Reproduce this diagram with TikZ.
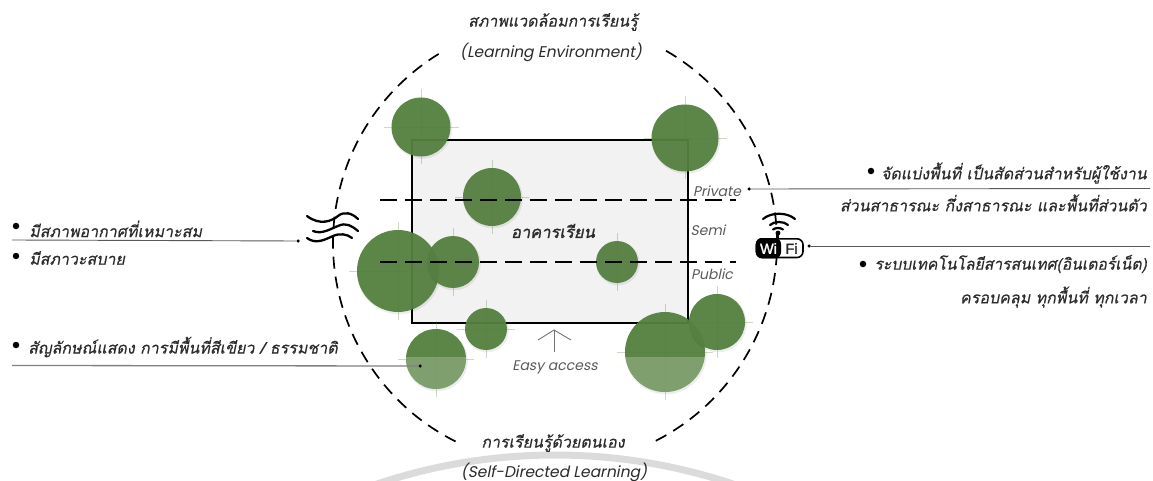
\documentclass[tikz,border=0pt]{standalone}
\usepackage{fontspec}
\newfontfamily\thaiit[Script=Thai,FakeSlant=0.2,FakeBold=0.35]{Loma}
\newfontfamily\thaibd[Script=Thai,FakeSlant=0.2,FakeBold=1.3]{Loma}
\newfontfamily\latinit[FakeSlant=0.2]{Poppins}
\newfontfamily\wifont[FakeBold=1.8]{Liberation Sans}
\definecolor{treegreen}{HTML}{558040}
\definecolor{inktext}{HTML}{2B2B2B}
\definecolor{softtext}{HTML}{5A5A5A}
\tikzset{
  thaitext/.style={inner sep=0pt,text=inktext,font=\thaiit\fontsize{16}{18}\selectfont},
  engtext/.style={inner sep=0pt,text=inktext,font=\latinit\fontsize{15.5}{18}\selectfont},
  zonetext/.style={inner sep=0pt,text=softtext,font=\latinit\fontsize{14}{16}\selectfont},
  bulletdot/.style={circle,fill=black,inner sep=0pt,minimum size=6.5pt},
  enddot/.style={circle,fill=black,inner sep=0pt,minimum size=3.5pt},
  leader/.style={draw=black!65,line width=0.9pt},
  ring/.style={draw=black,line width=1.7pt,dash pattern=on 12pt off 8pt},
  zoneline/.style={draw=black,line width=1.8pt,dash pattern=on 17pt off 8pt},
  treetop/.style={circle,inner sep=0pt,fill=treegreen,fill opacity=0.95,draw=none},
  twig/.style={draw=treegreen,draw opacity=0.3,line width=0.6pt},
  wave/.style={draw=black,line width=2.3pt,line cap=round},
  wifiarc/.style={draw=black,line width=2.2pt,line cap=round},
}
\newcommand{\treeat}[4]{% name, x, y, radius
  \fill[black,opacity=0.07] (#2+1,#3+1.5) circle (#4+0.8);
  \node[treetop,minimum size=2*#4 pt] (#1) at (#2,#3) {};
  \draw[twig] (#2-#4-8,#3) -- (#2+#4+8,#3) (#2,#3-#4-8) -- (#2,#3+#4+8);
}
\begin{document}
\begin{tikzpicture}[x=1pt,y=-1pt]
\useasboundingbox (0,0) rectangle (1153,481);
\begin{scope}
\clip (0,0) rectangle (1153,481);
\coordinate (wmcentre) at (555,1015);
\draw[draw=black!14,line width=7pt] (wmcentre) ++(-60:560) arc[start angle=-60,end angle=-120,radius=560];
\end{scope}

% ring (the y axis points down, so angles run clockwise on the page)
\coordinate (ringcentre) at (555,243);
\draw[ring] (ringcentre) ++(238.4:222) arc[start angle=238.4,end angle=116.6,radius=222];
\draw[ring,dash pattern=on 12.2pt off 8pt] (ringcentre) ++(-60:222) arc[start angle=-60,end angle=63,radius=222];

% building
\node[draw=black,line width=1.8pt,fill=black!5,inner sep=0pt,minimum width=276pt,minimum height=183pt] (building) at (550,231.5) {};

% trees
\treeat{t1}{421}{127}{29.5}
\treeat{t2}{685}{138}{33.5}
\treeat{t3}{492}{197}{29}
\treeat{t4}{398}{271}{41}
\treeat{t5}{453}{262}{26}
\treeat{t6}{617}{262}{21}
\treeat{t7}{486}{329}{21}
\treeat{t8}{436}{359}{30}
\treeat{t9}{665}{352}{40}
\treeat{t10}{717}{322}{28}
% lighter lower parts
\begin{scope}
\clip (380,357) rectangle (720,410);
\fill[white,opacity=0.22] (t8) circle (30);
\fill[white,opacity=0.22] (t9) circle (40);
\end{scope}

% zone lines
\coordinate (z1a) at (380,200); \coordinate (z1b) at (736,200);
\coordinate (z2a) at (380,262); \coordinate (z2b) at (736,262);
\draw[zoneline] (z1a) -- (z1b);
\draw[zoneline] (z2a) -- (z2b);

% building labels
\node[inner sep=0pt,text=inktext,font=\thaibd\fontsize{16.5}{18}\selectfont] (bname) at (553,231) {อาคารเรียน};
\node[zonetext] (private) at (717,191) {Private};
\node[zonetext] (semi) at (708,230) {Semi};
\node[zonetext] (public) at (712,274) {Public};

% easy access
\node[zonetext] (easy) at (555,367) {Easy access};
\coordinate (arrowtop) at (554,330);
\coordinate (arrowfoot) at (554,352);
\coordinate (arrowl) at (538,340);
\coordinate (arrowr) at (571,340);
\draw[draw=black!55,line width=0.9pt] (arrowfoot) -- (arrowtop);
\draw[draw=black!55,line width=0.9pt] (arrowl) -- (arrowtop) -- (arrowr);

% titles
\node[thaitext] (ttop) at (553,22) {สภาพแวดล้อมการเรียนรู้};
\node[engtext] (etop) at (551,52) {(Learning Environment)};
\node[thaitext] (tbot) at (553,443) {การเรียนรู้ด้วยตนเอง};
\node[engtext] (ebot) at (554,472) {(Self-Directed Learning)};

% waves
\coordinate (waveas) at (307,216); \coordinate (waveae) at (358,219);
\coordinate (wavebs) at (313,231); \coordinate (wavebe) at (358,231);
\coordinate (wavecs) at (307,238); \coordinate (wavece) at (352,238);
\draw[wave] (waveas) .. controls (320,226) and (332,221) .. (338,216) .. controls (344,211) and (352,213) .. (waveae);
\draw[wave] (wavebs) .. controls (322,235) and (332,228) .. (338,226) .. controls (346,222) and (352,226) .. (wavebe);
\draw[wave] (wavecs) .. controls (316,245) and (326,239) .. (333,236) .. controls (340,233) and (347,234) .. (wavece);

% wifi
\draw[wifiarc] (763,219) .. controls (771,212) and (787,212) .. (795,219);
\draw[wifiarc] (770,225) .. controls (774,221) and (784,221) .. (788,225);
\draw[wifiarc] (773,229.5) .. controls (776,227.5) and (780,227.5) .. (783,229.5);
\fill[black] (778,233) circle (2.4);
\draw[black,line width=1.8pt] (778,233) -- (778,240);
\draw[draw=black,fill=white,line width=1.6pt,rounded corners=6pt] (756.5,238.8) rectangle (803,257.5);
\fill[black,rounded corners=6pt] (755.7,238) rectangle (781,258.3);
\node[inner sep=0pt,text=white,font=\wifont\fontsize{14.5}{16}\selectfont] (wi) at (768.5,248.5) {Wi};
\node[inner sep=0pt,text=black!85,font=\wifont\fontsize{14.5}{16}\selectfont] (fi) at (791.5,248.5) {Fi};

% right annotations
\node[enddot] (d1) at (749,189) {};
\coordinate (d1e) at (1150,188.5);
\draw[leader] (d1) -- (d1e);
\node[bulletdot] (b1) at (871,171) {};
\node[thaitext,anchor=east] (r1) at (1147,173) {จัดแบ่งพื้นที่ เป็นสัดส่วนสำหรับผู้ใช้งาน};
\node[thaitext,anchor=east] (r2) at (1147,203) {ส่วนสาธารณะ กึ่งสาธารณะ และพื้นที่ส่วนตัว};
\node[enddot] (d2) at (809,246) {};
\coordinate (d2e) at (1150,246);
\draw[leader] (d2) -- (d2e);
\node[bulletdot] (b2) at (863,264) {};
\node[thaitext,anchor=east,xscale=0.98] (r3) at (1147,264) {ระบบเทคโนโลยีสารสนเทศ(อินเตอร์เน็ต)};
\node[thaitext,anchor=east] (r4) at (1147,297) {ครอบคลุม ทุกพื้นที่ ทุกเวลา};

% left annotations
\node[enddot] (d3) at (298,241) {};
\coordinate (d3e) at (12,240);
\draw[leader] (d3) -- (d3e);
\node[bulletdot] (b3) at (16,226) {};
\node[thaitext,anchor=west] (l1) at (29,229) {มีสภาพอากาศที่เหมาะสม};
\node[bulletdot] (b4) at (16,256) {};
\node[thaitext,anchor=west] (l2) at (29,258) {มีสภาวะสบาย};
\node[enddot] (d4) at (420,366) {};
\coordinate (d4e) at (12,365.5);
\draw[draw=black!50,line width=1.3pt] (d4) -- (d4e);
\node[bulletdot] (b5) at (16,345) {};
\node[thaitext,anchor=west] (l3) at (28,347) {สัญลักษณ์แสดง การมีพื้นที่สีเขียว / ธรรมชาติ};
\end{tikzpicture}
\end{document}
